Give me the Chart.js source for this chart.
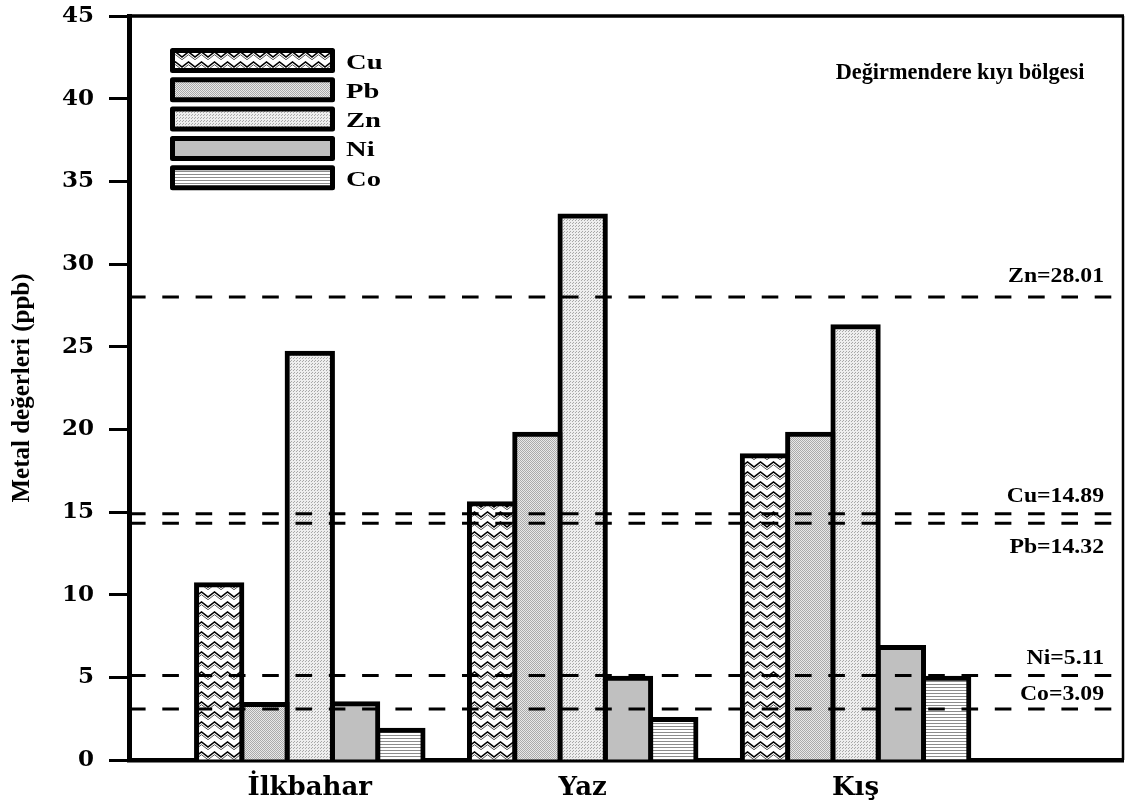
<!DOCTYPE html>
<html>
<head>
<meta charset="utf-8">
<script src="https://cdn.jsdelivr.net/npm/chart.js@4.4.1/dist/chart.umd.min.js"></script>
<style>
  html, body { margin: 0; padding: 0; background: #ffffff; }
  #wrap { width: 1127px; height: 801px; position: relative; }
  canvas { display: block; }
</style>
</head>
<body>
<div id="wrap"><canvas id="chart" width="1127" height="801"></canvas></div>
<script>
// Seasons on the x axis, metal series, y-axis ticks
const seasons = ['İlkbahar', 'Yaz', 'Kış'];
const metals = ['Cu', 'Pb', 'Zn', 'Ni', 'Co'];
const cuValues = [10.6, 15.5, 18.4];
const pbValues = [3.35, 19.7, 19.7];
const znValues = [24.6, 32.9, 26.2];
const niValues = [3.4, 4.95, 6.8];
const coValues = [1.8, 2.45, 4.95];
const yTicks = [0, 5, 10, 15, 20, 25, 30, 35, 40, 45];

// Reference limits drawn as dashed lines
const limitNames = ['Zn', 'Cu', 'Pb', 'Ni', 'Co'];
const limitValues = [28.01, 14.89, 14.32, 5.11, 3.09];

const chartTitle = 'Değirmendere kıyı bölgesi';
const yAxisTitle = 'Metal değerleri (ppb)';

// ---- fill patterns ----
function tile(w, h, paint) {
  const c = document.createElement('canvas');
  c.width = w; c.height = h;
  const g = c.getContext('2d');
  paint(g, w, h);
  return document.createElement('canvas').getContext('2d').createPattern(c, 'repeat');
}
function pixelTile(w, h, colorAt) {
  return tile(w, h, (g) => {
    const img = g.createImageData(w, h);
    for (let y = 0; y < h; y++) for (let x = 0; x < w; x++) {
      const v = colorAt(x, y);
      const i = (y * w + x) * 4;
      img.data[i] = img.data[i + 1] = img.data[i + 2] = v;
      img.data[i + 3] = 255;
    }
    g.putImageData(img, 0, 0);
  });
}
const zigzagFill = tile(13, 10, (g, w, h) => {
  g.fillStyle = '#ffffff'; g.fillRect(0, 0, w, h);
  g.lineJoin = 'miter';
  g.strokeStyle = '#000000'; g.lineWidth = 1.5;
  g.beginPath(); g.moveTo(-6.5, 2); g.lineTo(0, 7); g.lineTo(6.5, 2); g.lineTo(13, 7); g.lineTo(19.5, 2); g.stroke();
  g.strokeStyle = '#555555'; g.lineWidth = 1;
  g.beginPath(); g.moveTo(-6.5, 4.7); g.lineTo(0, 9.7); g.lineTo(6.5, 4.7); g.lineTo(13, 9.7); g.lineTo(19.5, 4.7); g.stroke();
});
const denseDots = pixelTile(2, 2, (x, y) => ((x + y) % 2 === 0 ? 170 : 232));
const lightDots = pixelTile(3, 3, (x, y) => ((x === 0 && y === 0) || (x === 2 && y === 1) ? 168 : 238));
const solidGray = '#c0c0c0';
const hLines = pixelTile(4, 3, (x, y) => (y === 0 ? 140 : 255));

const fills = [zigzagFill, denseDots, lightDots, solidGray, hLines];
const seriesValues = [cuValues, pbValues, znValues, niValues, coValues];

const datasets = metals.map((m, k) => ({
  label: m,
  data: seriesValues[k].map((v, i) => ({ x: i, y: v })),
  backgroundColor: fills[k],
  borderColor: '#000000',
  borderWidth: 5,
  inflateAmount: 2.5,
  borderSkipped: 'start',
  categoryPercentage: 0.83,
  barPercentage: 1.0
}));

// Draws text stretched horizontally by sx
function stretchedText(ctx, text, x, y, align, font, sx) {
  ctx.save();
  ctx.font = font;
  ctx.textAlign = align;
  ctx.textBaseline = 'alphabetic';
  ctx.translate(x, y);
  ctx.scale(sx, 1);
  ctx.fillStyle = '#000000';
  ctx.fillText(text, 0, 0);
  ctx.restore();
}

const labelOffsets = { Zn: -15, Cu: -12, Pb: 30, Ni: -12, Co: -9 };

const decorations = {
  id: 'decorations',
  beforeDraw(chart) {
    const ctx = chart.ctx;
    ctx.save();
    ctx.fillStyle = '#ffffff';
    ctx.fillRect(0, 0, chart.width, chart.height);
    ctx.restore();
  },
  afterDatasetsDraw(chart) {
    const ctx = chart.ctx;
    const area = chart.chartArea;
    const y = chart.scales.y;
    ctx.save();
    ctx.strokeStyle = '#000000';
    ctx.lineWidth = 3;
    ctx.setLineDash([16.6, 16.7]);
    ctx.lineCap = 'butt';
    limitValues.forEach((v) => {
      const py = y.getPixelForValue(v);
      ctx.beginPath();
      ctx.moveTo(area.left, py);
      ctx.lineTo(area.right, py);
      ctx.stroke();
    });
    ctx.restore();
    limitNames.forEach((n, i) => {
      const py = y.getPixelForValue(limitValues[i]);
      stretchedText(ctx, n + '=' + limitValues[i].toFixed(2), 1104, py + labelOffsets[n],
        'right', 'bold 21px "Liberation Serif"', 1.13);
    });
  },
  afterDraw(chart) {
    const ctx = chart.ctx;
    const area = chart.chartArea;
    // frame top and right
    ctx.save();
    ctx.strokeStyle = '#000000';
    ctx.lineWidth = 3.5;
    ctx.beginPath(); ctx.moveTo(area.left, area.top); ctx.lineTo(area.right + 1, area.top); ctx.stroke();
    ctx.lineWidth = 2.5;
    ctx.beginPath(); ctx.moveTo(area.right, area.top); ctx.lineTo(area.right, area.bottom); ctx.stroke();
    ctx.restore();

    // legend
    chart.data.datasets.forEach((ds, i) => {
      const bx = 170, by = 48 + i * 29.3, bw = 165, bh = 25;
      ctx.save();
      ctx.fillStyle = ds.backgroundColor;
      ctx.fillRect(bx + 2.5, by + 2.5, bw - 5, bh - 5);
      ctx.strokeStyle = '#000000';
      ctx.lineWidth = 5;
      ctx.lineJoin = 'round';
      ctx.strokeRect(bx + 2.5, by + 2.5, bw - 5, bh - 5);
      ctx.restore();
      stretchedText(ctx, ds.label, 346, by + bh / 2 + 8, 'left', 'bold 22px "Liberation Serif"', 1.3);
    });

    // title
    stretchedText(ctx, chartTitle, 960, 79, 'center', 'bold 23px "Liberation Serif"', 0.97);
  }
};

new Chart(document.getElementById('chart'), {
  type: 'bar',
  data: { datasets },
  options: {
    responsive: false,
    animation: false,
    devicePixelRatio: 1,
    layout: { padding: { top: 16, right: 4, left: 0, bottom: 0 } },
    plugins: { legend: { display: false }, tooltip: { enabled: false } },
    scales: {
      x: {
        type: 'linear',
        offset: false,
        min: -0.6625,
        max: 2.98,
        z: 1,
        afterBuildTicks(s) { s.ticks = seasons.map((_, i) => ({ value: i })); },
        afterFit(s) { s.height = 41; s.paddingLeft = 0; s.paddingRight = 0; },
        ticks: {
          autoSkip: false,
          maxRotation: 0,
          padding: 13,
          color: '#000000',
          font: { family: '"DejaVu Serif"', weight: 'bold', size: 26 },
          callback: (v) => seasons[v]
        },
        grid: { display: false, drawTicks: false, offset: false },
        border: { display: true, color: '#000000', width: 4.5 }
      },
      y: {
        min: 0,
        max: 45,
        z: 1,
        afterBuildTicks(s) { s.ticks = yTicks.map((v) => ({ value: v })); },
        afterFit(s) { s.width = 129; s.paddingTop = 0; s.paddingBottom = 0; },
        ticks: {
          padding: 15,
          color: '#000000',
          font: { family: '"DejaVu Serif"', weight: 'bold', size: 23 }
        },
        grid: {
          display: true,
          drawOnChartArea: false,
          drawTicks: true,
          tickLength: 20,
          tickWidth: 3,
          tickColor: '#000000',
          color: '#000000'
        },
        border: { display: true, color: '#000000', width: 5 },
        title: {
          display: true,
          text: yAxisTitle,
          color: '#000000',
          font: { family: '"Liberation Serif"', weight: 'bold', size: 25 },
          padding: { top: 8, bottom: 0 }
        }
      }
    }
  },
  plugins: [decorations]
});
</script>
</body>
</html>
